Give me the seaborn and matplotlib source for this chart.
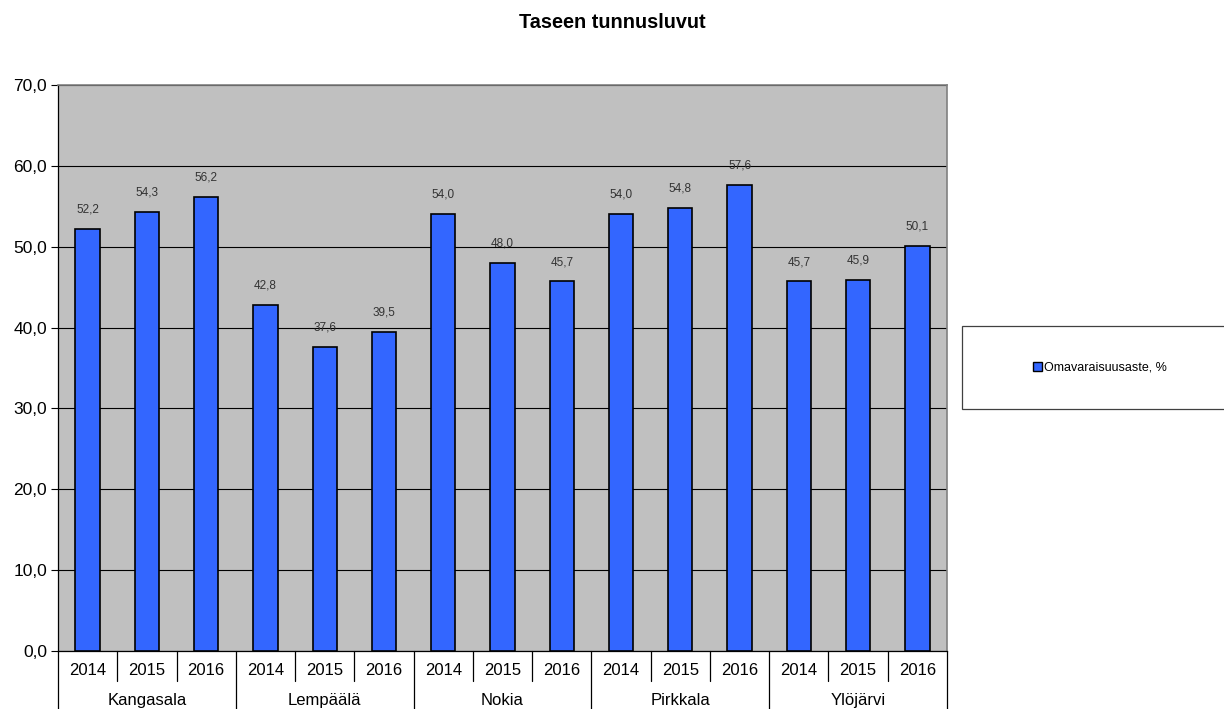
import pandas as pd
import numpy as np
import matplotlib
matplotlib.use('Agg')
import matplotlib.pyplot as plt
import matplotlib.transforms as mtransforms
from matplotlib.patches import Rectangle, Patch
import seaborn as sns

#data
kunnat = ['Kangasala', 'Lempäälä', 'Nokia', 'Pirkkala', 'Ylöjärvi']
vuodet = ['2014', '2015', '2016']
omavaraisuus = [52.2, 54.3, 56.2,
                42.8, 37.6, 39.5,
                54.0, 48.0, 45.7,
                54.0, 54.8, 57.6,
                45.7, 45.9, 50.1]
sarja = 'Omavaraisuusaste, %'
otsikko = 'Taseen tunnusluvut'

df = pd.DataFrame({
    'Kunta': np.repeat(kunnat, len(vuodet)),
    'Vuosi': vuodet * len(kunnat),
    'Arvo': omavaraisuus,
})
df['Avain'] = df['Kunta'] + ' ' + df['Vuosi']

sns.set_style('white')
plt.rcParams['font.family'] = ['Liberation Sans', 'DejaVu Sans']
plt.rcParams['text.color'] = 'black'
plt.rcParams['ytick.color'] = 'black'
plt.rcParams['ytick.labelcolor'] = 'black'

fig = plt.figure(figsize=(12.24, 7.09), dpi=100)
ax = fig.add_axes([58 / 1224, 1 - 651 / 709, 889 / 1224, 566 / 709])
ax.set_facecolor('#C0C0C0')

sns.barplot(data=df, x='Avain', y='Arvo', color='#3366FF', saturation=1,
            width=0.41, edgecolor='black', linewidth=1.2, ax=ax, zorder=3)

ax.set_ylim(0, 70)
ax.set_xlim(-0.5, len(df) - 0.5)
ax.set_yticks(np.arange(0, 71, 10))
ax.set_yticklabels([f'{v:.1f}'.replace('.', ',') for v in np.arange(0, 71, 10)], fontsize=12.5)
ax.yaxis.grid(True, color='black', linewidth=0.8, zorder=1)
ax.set_axisbelow(True)
ax.tick_params(axis='y', left=True, length=5, width=0.8, color='black',
               labelcolor='black', pad=3)
ax.set_xticks([])
ax.set_xlabel('')
ax.set_ylabel('')
for s in ['top', 'right']:
    ax.spines[s].set_color('#808080')
    ax.spines[s].set_linewidth(1.2)
ax.spines['left'].set_color('black')
ax.spines['left'].set_linewidth(0.9)
ax.spines['bottom'].set_color('black')
ax.spines['bottom'].set_linewidth(0.9)

#value labels
for i, v in enumerate(df['Arvo']):
    ax.annotate(f'{v:.1f}'.replace('.', ','), (i, v), xytext=(0, 14),
                textcoords='offset points', ha='center', va='center',
                fontsize=8.5, color='#333333')

#two-level category axis
trans = mtransforms.blended_transform_factory(ax.transData, ax.transAxes)
for i in range(len(df) + 1):
    x = i - 0.5
    bottom = -0.105 if i % len(vuodet) == 0 else -0.053
    ax.plot([x, x], [0, bottom], color='black', linewidth=0.9,
            transform=trans, clip_on=False)
for i, y in enumerate(df['Vuosi']):
    ax.text(i, -0.034, y, transform=trans, ha='center', va='center', fontsize=12)
for k, kunta in enumerate(kunnat):
    xc = k * len(vuodet) + (len(vuodet) - 1) / 2
    ax.text(xc, -0.088, kunta, transform=trans, ha='center', va='center', fontsize=12)

#title
fig.text(0.5, 1 - 22 / 709, otsikko, ha='center', va='center',
         fontsize=14.3, fontweight='bold')

#legend box
fig.patches.append(Rectangle((962 / 1224, 1 - 409 / 709), 300 / 1224, 83 / 709,
                             transform=fig.transFigure, facecolor='white',
                             edgecolor='#404040', linewidth=0.9))
fig.legend(handles=[Patch(facecolor='#3366FF', edgecolor='black', linewidth=1.0, label=sarja)],
           loc='center', bbox_to_anchor=(1100 / 1224, 1 - 368 / 709), frameon=False,
           fontsize=9, handlelength=0.7, handleheight=0.7, handletextpad=0.2)

fig.savefig('out.png', dpi=100)
